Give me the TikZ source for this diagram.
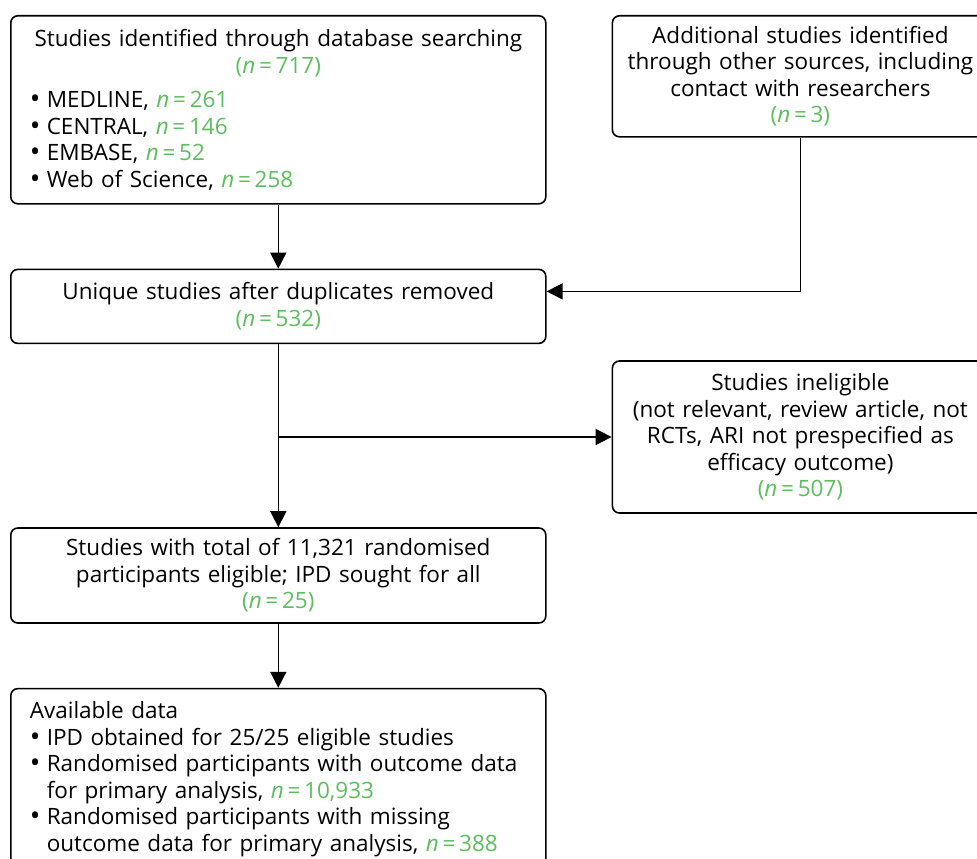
\documentclass[tikz,border=0pt]{standalone}
\usepackage{fontspec}
\setmainfont{Open Sans}
\usetikzlibrary{arrows.meta,positioning}
\definecolor{ngreen}{RGB}{92,190,92}
\newcommand{\nval}[1]{\textcolor{ngreen}{\textit{n}\,=\,#1}}
\newcommand{\nline}[1]{\textcolor{ngreen}{(\textit{n}\,=\,#1)}}
\newcommand{\blt}{\makebox[17pt][l]{\raisebox{-1pt}{\scalebox{1.25}{\textbullet}}}}
\newcommand{\bul}[1]{\par\noindent\blt#1}
\tikzset{
  box/.style={rectangle, rounded corners=7pt, draw=black, line width=1.6pt, inner ysep=4pt, font=\fontsize{22.5}{26.5}\selectfont},
  leftbox/.style={box, text width=497pt, inner xsep=19pt},
  rightbox/.style={box, text width=346pt, inner xsep=15pt, align=center},
  arr/.style={-{Triangle[length=16pt,width=16pt]}, draw=black, line width=1.6pt},
}

\begin{document}
\begin{tikzpicture}[x=1pt,y=1pt]
\clip (0,0) rectangle (977,-859);
\node[leftbox, minimum height=188pt, anchor=north west] (search) at (10,-15)
  {{\centering Studies identified through database searching\\\nline{717}\par}\vspace{8pt}
   \raggedright
   \bul{MEDLINE, \nval{261}}
   \bul{CENTRAL, \nval{146}}
   \bul{EMBASE, \nval{52}}
   \bul{Web of Science, \nval{258}}};
\node[rightbox, minimum height=121pt, right=65pt of search.north east, anchor=north west] (other)
  {Additional studies identified\\through other sources, including\\contact with researchers\\\nline{3}};
\node[leftbox, align=center, minimum height=74pt, below=64pt of search] (unique)
  {Unique studies after duplicates removed\\\nline{532}};
\node[rightbox, minimum height=152pt, below right=16pt and 65pt of unique.south east] (excluded)
  {Studies ineligible\\(not relevant, review article, not\\RCTs, ARI not prespecified as\\efficacy outcome)\\\nline{507}};
\node[leftbox, align=center, minimum height=95pt, below=183pt of unique] (eligible)
  {Studies with total of 11,321 randomised\\participants eligible; IPD sought for all\\\nline{25}};
\node[leftbox, minimum height=182pt, below=64pt of eligible] (available)
  {\noindent\begin{tabular}{@{}l@{}l@{}}
   \multicolumn{2}{@{}l@{}}{Available data}\\
   \blt & IPD obtained for 25/25 eligible studies\\
   \blt & Randomised participants with outcome data\\
        & for primary analysis, \nval{10,933}\\
   \blt & Randomised participants with missing\\
        & outcome data for primary analysis, \nval{388}
   \end{tabular}};
\coordinate (split) at (unique.south |- excluded.west);
\draw[arr] (search) -- (unique);
\draw[arr] (other.south) |- ([yshift=15pt]unique.east);
\draw[arr] (unique) -- (eligible);
\draw[arr] (split) -- (excluded.west);
\draw[arr] (eligible) -- (available);
\end{tikzpicture}
\end{document}
